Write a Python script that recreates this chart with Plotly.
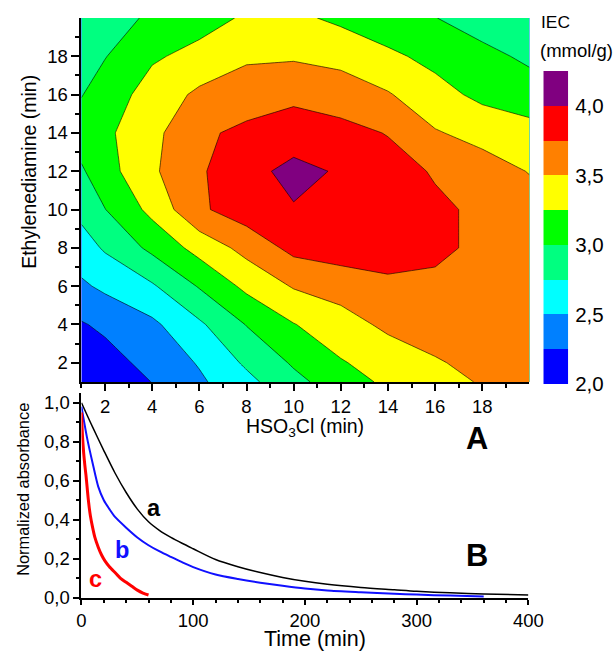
import plotly.graph_objects as go

# ---------------- data: contour (IEC, mmol/g) ----------------
hso3cl = [1, 2, 4, 6, 8, 10, 12, 14, 16, 18, 20]          # x (min)
eda = [1, 2, 4, 6, 8, 10, 12, 14, 16, 18, 20]             # y (min)
iec = [
    [2.00, 2.08, 2.255, 2.46, 2.68, 2.93, 3.13, 3.30, 3.41, 3.52, 3.58],
    [2.06, 2.15, 2.33, 2.52, 2.79, 3.03, 3.23, 3.36, 3.48, 3.56, 3.62],
    [2.23, 2.30, 2.45, 2.71, 3.01, 3.24, 3.40, 3.55, 3.60, 3.63, 3.64],
    [2.46, 2.55, 2.72, 3.02, 3.31, 3.52, 3.60, 3.70, 3.72, 3.68, 3.62],
    [2.64, 2.78, 3.06, 3.34, 3.58, 3.82, 3.88, 3.86, 3.78, 3.72, 3.63],
    [2.82, 2.995, 3.32, 3.71, 3.88, 3.98, 3.92, 3.86, 3.79, 3.71, 3.60],
    [2.97, 3.15, 3.46, 3.72, 3.91, 4.08, 3.97, 3.84, 3.73, 3.61, 3.49],
    [3.12, 3.20, 3.43, 3.71, 3.80, 3.86, 3.82, 3.74, 3.52, 3.42, 3.35],
    [2.99, 3.12, 3.35, 3.55, 3.64, 3.70, 3.64, 3.52, 3.34, 3.19, 3.10],
    [2.90, 2.99, 3.22, 3.32, 3.46, 3.47, 3.42, 3.30, 3.18, 3.06, 2.96],
    [2.85, 2.92, 3.03, 3.16, 3.28, 3.30, 3.20, 3.09, 3.005, 2.90, 2.82],
]
level_start, level_end, level_step = 2.0, 4.0, 0.25
band_colors = ['#0000ff', '#0000ff', '#0080ff', '#00ffff', '#00ff80',
               '#00ff00', '#ffff00', '#ff8000', '#ff0000', '#800080']
cbar_ticks = [2.0, 2.5, 3.0, 3.5, 4.0]
cbar_ticktext = ['2,0', '2,5', '3,0', '3,5', '4,0']

# ---------------- data: kinetics ----------------
time_a = [0, 10, 20, 30, 40, 50, 60, 70, 80, 90, 100, 120, 140, 160,
          180, 200, 220, 250, 280, 300, 330, 360, 400]
abs_a = [1.0, 0.875, 0.755, 0.64, 0.54, 0.455, 0.39, 0.345, 0.31, 0.28,
         0.252, 0.197, 0.16, 0.13, 0.105, 0.085, 0.07, 0.054,
         0.042, 0.034, 0.026, 0.02, 0.015]
time_b = [0, 5, 10, 15, 20, 25, 30, 40, 50, 60, 70, 80, 90, 100, 120, 140,
          160, 180, 200, 220, 250, 280, 300, 330, 360]
abs_b = [0.98, 0.82, 0.69, 0.57, 0.50, 0.455, 0.415, 0.36, 0.31, 0.27, 0.238,
         0.21, 0.183, 0.158, 0.12, 0.097, 0.078, 0.062, 0.048, 0.038, 0.029,
         0.021, 0.017, 0.012, 0.008]
time_c = [0, 1, 2, 3, 4, 5, 6, 7, 8, 10, 12, 15, 18, 21, 25, 30, 35, 40, 45,
          50, 55, 60]
abs_c = [0.95, 0.82, 0.74, 0.68, 0.63, 0.57, 0.51, 0.46, 0.42, 0.36, 0.31,
         0.26, 0.22, 0.19, 0.16, 0.13, 0.10, 0.08, 0.06, 0.04, 0.025, 0.015]
time_ticks = [0, 100, 200, 300, 400]
abs_ticks = [0.0, 0.2, 0.4, 0.6, 0.8, 1.0]
abs_ticktext = ['0,0', '0,2', '0,4', '0,6', '0,8', '1,0']
xy_ticks = [2, 4, 6, 8, 10, 12, 14, 16, 18]

FONT = 'Liberation Sans, Arial, sans-serif'
# the photographed page comes out slightly reduced; compensate
SX, SY = 0.975, 0.982
W, H = round(616 / SX), round(651 / SY)
FS = 1 / SX


def dx(px):
    return (px / SX) / W


def dy(py):
    return 1 - (py / SY) / H


def fs(size):
    return round(size * FS, 1)


n = len(band_colors) - 1
colorscale = [[i / n, c] for i, c in enumerate(band_colors)]

fig = go.Figure()

fig.add_trace(go.Contour(
    x=hso3cl, y=eda, z=iec, xaxis='x', yaxis='y',
    autocontour=False,
    contours=dict(start=level_start, end=level_end, size=level_step,
                  coloring='fill', showlines=True),
    line=dict(color='black', width=0.6, smoothing=0),
    colorscale=colorscale, showscale=False, hoverinfo='skip'))

# colour key (discrete bands) drawn as a heatmap on its own axes
nb = int(round((level_end - level_start) / level_step)) + 1
centers = [level_start + (i + 0.5) * level_step for i in range(nb)]
fig.add_trace(go.Heatmap(
    x=[0], y=centers, z=[[i + 1] for i in range(nb)],
    zmin=0, zmax=n, colorscale=colorscale, showscale=False,
    xaxis='x3', yaxis='y3', hoverinfo='skip'))

fig.add_trace(go.Scatter(x=time_a, y=abs_a, mode='lines', xaxis='x2', yaxis='y2',
                         line=dict(color='black', width=1.5, shape='spline', smoothing=0.8)))
fig.add_trace(go.Scatter(x=time_b, y=abs_b, mode='lines', xaxis='x2', yaxis='y2',
                         line=dict(color='#1010ff', width=2, shape='spline', smoothing=0.7)))
fig.add_trace(go.Scatter(x=time_c, y=abs_c, mode='lines', xaxis='x2', yaxis='y2',
                         line=dict(color='#ff0000', width=3, shape='spline', smoothing=0.6)))

tickfont = dict(family=FONT, size=fs(18), color='black')
axis_common = dict(showline=True, linecolor='black', linewidth=2, ticks='outside',
                   tickcolor='black', tickwidth=1.5, showgrid=False, zeroline=False,
                   mirror=False, tickfont=tickfont)

fig.update_layout(
    width=W, height=H, margin=dict(l=0, r=0, t=0, b=0),
    paper_bgcolor='white', plot_bgcolor='rgba(0,0,0,0)', showlegend=False,
    font=dict(family=FONT, color='black'),
    xaxis=dict(domain=[dx(77), dx(528)], range=[1, 20], anchor='y',
               tickvals=xy_ticks, ticklen=7,
               minor=dict(tickvals=list(range(1, 20, 2)), ticklen=4, tickwidth=1.5,
                          ticks='outside', tickcolor='black'),
               **axis_common),
    yaxis=dict(domain=[dy(381), dy(17)], range=[1, 20], anchor='x',
               tickvals=xy_ticks, ticklen=8,
               minor=dict(tickvals=list(range(3, 20, 2)), ticklen=4, tickwidth=1.5,
                          ticks='outside', tickcolor='black'),
               **axis_common),
    xaxis2=dict(domain=[dx(77), dx(527)], range=[0, 400], anchor='y2',
                tickvals=time_ticks, ticklen=5,
                minor=dict(dtick=20, tick0=0, ticklen=3, tickwidth=1.5,
                           ticks='outside', tickcolor='black'),
                **axis_common),
    yaxis2=dict(domain=[dy(597), dy(392)], range=[0, 1.05], anchor='x2',
                tickvals=abs_ticks, ticktext=abs_ticktext, ticklen=6,
                minor=dict(dtick=0.1, tick0=0, ticklen=3, tickwidth=1.5,
                           ticks='outside', tickcolor='black'),
                **axis_common),
    xaxis3=dict(domain=[dx(542), dx(567)], range=[-0.5, 0.5], anchor='y3',
                visible=False, fixedrange=True),
    yaxis3=dict(domain=[dy(383), dy(70)], range=[level_start, level_end + level_step],
                anchor='x3', side='right', tickvals=cbar_ticks, ticktext=cbar_ticktext,
                ticks='', showline=False, showgrid=False, zeroline=False,
                ticklabelstandoff=6,
                tickfont=dict(family=FONT, size=fs(20), color='black')),
)

ann = [
    dict(text='IEC', x=dx(538), y=dy(21), xanchor='left', yanchor='middle', size=17),
    dict(text='(mmol/g)', x=dx(537), y=dy(50), xanchor='left', yanchor='middle', size=18),
    dict(text='Ethylenediamine (min)', x=dx(24), y=dy(171), textangle=-90,
         xanchor='center', yanchor='middle', size=19),
    dict(text='HSO<sub>3</sub>Cl (min)', x=dx(302), y=dy(427),
         xanchor='center', yanchor='middle', size=19),
    dict(text='Normalized absorbance', x=dx(18), y=dy(488), textangle=-90,
         xanchor='center', yanchor='middle', size=16),
    dict(text='Time (min)', x=dx(312), y=dy(638), xanchor='center',
         yanchor='middle', size=21),
    dict(text='<b>a</b>', x=dx(150), y=dy(507), xanchor='center', yanchor='middle',
         size=23, color='black'),
    dict(text='<b>b</b>', x=dx(118), y=dy(549), xanchor='center', yanchor='middle',
         size=23, color='#1010ff'),
    dict(text='<b>c</b>', x=dx(91), y=dy(578), xanchor='center', yanchor='middle',
         size=23, color='#ff0000'),
    dict(text='<b>A</b>', x=dx(475), y=dy(438), xanchor='center', yanchor='middle', size=30),
    dict(text='<b>B</b>', x=dx(475), y=dy(555), xanchor='center', yanchor='middle', size=30),
]
annotations = []
for a in ann:
    size = a.pop('size')
    color = a.pop('color', 'black')
    a.update(xref='paper', yref='paper', showarrow=False,
             font=dict(family=FONT, size=fs(size), color=color))
    annotations.append(a)
fig.update_layout(annotations=annotations)

fig.write_html('out.html')
